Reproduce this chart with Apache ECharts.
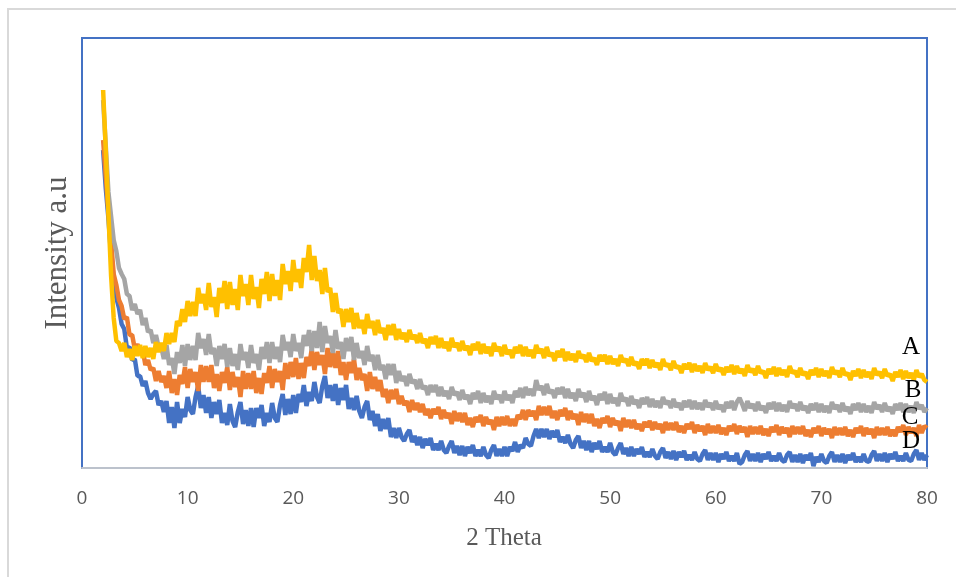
<!DOCTYPE html>
<html>
<head>
<meta charset="utf-8">
<script src="https://cdn.jsdelivr.net/npm/echarts@6/dist/echarts.min.js"></script>
<style>
html,body{margin:0;padding:0;background:#fff;}
#chart{width:956px;height:577px;}
</style>
</head>
<body>
<div id="chart"></div>
<script>
// 2 Theta positions (degrees)
const theta = [
2,2.25,2.5,2.75,3,3.25,3.5,3.75,
4,4.25,4.5,4.75,5,5.25,5.5,5.75,
6,6.25,6.5,6.75,7,7.25,7.5,7.75,
8,8.25,8.5,8.75,9,9.25,9.5,9.75,
10,10.25,10.5,10.75,11,11.25,11.5,11.75,
12,12.25,12.5,12.75,13,13.25,13.5,13.75,
14,14.25,14.5,14.75,15,15.25,15.5,15.75,
16,16.25,16.5,16.75,17,17.25,17.5,17.75,
18,18.25,18.5,18.75,19,19.25,19.5,19.75,
20,20.25,20.5,20.75,21,21.25,21.5,21.75,
22,22.25,22.5,22.75,23,23.25,23.5,23.75,
24,24.25,24.5,24.75,25,25.25,25.5,25.75,
26,26.25,26.5,26.75,27,27.25,27.5,27.75,
28,28.25,28.5,28.75,29,29.25,29.5,29.75,
30,30.25,30.5,30.75,31,31.25,31.5,31.75,
32,32.25,32.5,32.75,33,33.25,33.5,33.75,
34,34.25,34.5,34.75,35,35.25,35.5,35.75,
36,36.25,36.5,36.75,37,37.25,37.5,37.75,
38,38.25,38.5,38.75,39,39.25,39.5,39.75,
40,40.25,40.5,40.75,41,41.25,41.5,41.75,
42,42.25,42.5,42.75,43,43.25,43.5,43.75,
44,44.25,44.5,44.75,45,45.25,45.5,45.75,
46,46.25,46.5,46.75,47,47.25,47.5,47.75,
48,48.25,48.5,48.75,49,49.25,49.5,49.75,
50,50.25,50.5,50.75,51,51.25,51.5,51.75,
52,52.25,52.5,52.75,53,53.25,53.5,53.75,
54,54.25,54.5,54.75,55,55.25,55.5,55.75,
56,56.25,56.5,56.75,57,57.25,57.5,57.75,
58,58.25,58.5,58.75,59,59.25,59.5,59.75,
60,60.25,60.5,60.75,61,61.25,61.5,61.75,
62,62.25,62.5,62.75,63,63.25,63.5,63.75,
64,64.25,64.5,64.75,65,65.25,65.5,65.75,
66,66.25,66.5,66.75,67,67.25,67.5,67.75,
68,68.25,68.5,68.75,69,69.25,69.5,69.75,
70,70.25,70.5,70.75,71,71.25,71.5,71.75,
72,72.25,72.5,72.75,73,73.25,73.5,73.75,
74,74.25,74.5,74.75,75,75.25,75.5,75.75,
76,76.25,76.5,76.75,77,77.25,77.5,77.75,
78,78.25,78.5,78.75,79,79.25,79.5,79.75,
80];

// Intensity (a.u.)
const seriesA = [
378,318,255,193,150,127,125,117,
125,111,119,108,122,112,123,110,
122,111,120,109,126,116,125,117,
135,124,135,126,147,142,159,146,
167,152,166,152,180,165,174,158,
185,161,171,151,180,165,187,159,
186,163,179,158,193,172,184,163,
193,169,181,160,189,174,196,167,
194,172,188,168,204,184,197,177,
208,186,199,180,210,196,223,188,
212,187,198,174,200,176,180,156,
175,155,159,141,159,146,160,139,
155,140,148,134,154,140,147,133,
148,135,140,128,143,133,144,128,
139,129,135,126,138,129,133,125,
135,125,129,120,131,124,132,120,
130,120,126,117,130,121,125,117,
127,118,122,113,124,118,126,114,
124,115,121,112,125,117,121,112,
123,114,118,110,121,115,123,112,
121,112,118,110,123,115,119,110,
121,112,115,107,117,111,119,107,
116,108,114,106,117,110,113,106,
115,107,110,103,113,107,113,104,
112,104,109,102,113,106,109,102,
111,103,106,99,109,103,109,100,
108,101,105,98,109,102,104,98,
107,100,102,95,104,99,105,96,
104,97,102,95,105,98,101,95,
104,97,100,93,101,96,103,94,
102,95,99,92,103,96,99,93,
102,95,97,90,99,94,101,92,
100,93,98,91,102,95,97,91,
100,93,96,89,98,93,100,91,
99,92,97,90,101,94,97,91,
100,93,95,88,97,92,99,90,
98,91,96,89,100,93,96,90,
99,92,94,87,96,91,98,89,
97,90,95,88,98,91,94,88,
86];

const seriesB = [
368,322,276,252,228,217,200,194,
189,174,172,158,164,154,158,143,
150,136,138,125,133,121,121,109,
123,103,110,94,116,105,123,102,
124,108,122,108,135,120,129,113,
134,114,120,102,122,109,124,101,
120,102,114,98,124,108,116,100,
123,105,114,98,121,109,126,105,
126,109,121,106,133,118,126,111,
134,117,125,110,133,122,138,117,
137,120,146,116,142,125,132,115,
138,119,126,109,130,117,131,108,
125,110,117,103,122,107,113,98,
113,98,103,89,104,93,104,85,
97,87,92,82,94,85,88,79,
89,79,82,73,83,76,83,72,
81,72,77,69,81,73,76,68,
78,69,73,64,75,69,77,65,
75,66,72,64,77,69,73,65,
77,68,73,65,77,71,80,70,
81,73,79,72,88,78,82,73,
84,75,78,70,80,74,81,70,
79,70,75,67,79,71,75,66,
77,68,72,63,74,68,76,64,
74,65,70,62,75,67,70,62,
72,64,68,60,70,64,71,61,
69,61,67,60,71,64,67,60,
69,61,65,58,67,61,68,59,
67,59,65,58,68,61,65,58,
67,59,63,56,66,60,67,58,
66,70,64,57,67,60,64,57,
66,58,62,55,65,59,66,57,
65,57,63,56,67,60,64,57,
66,58,62,55,64,58,65,56,
64,56,62,55,66,59,63,56,
65,57,61,54,64,58,65,56,
64,56,62,55,66,59,63,56,
65,57,61,54,64,58,65,56,
64,56,62,55,66,59,63,56,
60];

const seriesC = [
328,292,256,227,194,183,168,162,
149,151,133,133,119,124,114,118,
103,108,98,100,87,97,86,92,
80,97,75,89,73,93,84,101,
80,99,86,96,77,103,86,102,
86,103,80,94,77,96,85,101,
78,96,81,91,71,97,79,95,
79,97,75,90,74,95,85,102,
80,99,86,97,78,105,89,106,
91,110,89,105,90,111,102,119,
98,116,103,113,94,120,101,116,
100,117,93,106,88,106,95,109,
88,100,88,94,77,96,79,91,
77,88,71,79,65,78,69,79,
64,72,63,67,56,68,58,65,
56,64,53,59,50,59,54,61,
49,58,50,55,44,57,47,55,
46,55,43,50,41,51,46,53,
42,51,44,48,38,51,42,51,
43,52,42,49,42,53,49,58,
48,58,52,57,48,62,53,61,
53,62,50,57,48,58,52,60,
48,57,49,54,43,56,46,54,
45,54,42,49,40,50,45,52,
41,50,43,47,37,50,41,48,
40,48,39,44,37,46,41,47,
38,46,39,44,35,46,38,45,
38,46,36,42,35,44,39,46,
35,43,37,42,33,44,35,42,
35,43,34,40,33,42,37,44,
34,42,36,41,31,42,34,41,
34,42,33,39,32,41,36,43,
33,41,35,40,31,42,34,41,
34,42,32,38,31,40,35,42,
32,40,34,39,30,41,33,40,
33,41,32,38,31,40,35,42,
32,40,34,39,30,41,33,40,
33,41,32,38,32,41,36,43,
33,41,35,40,32,43,35,42,
40];

const seriesD = [
318,280,250,213,190,170,160,144,
139,120,121,108,109,92,92,82,
87,75,69,74,77,63,67,56,
67,45,61,40,66,45,59,51,
71,58,54,71,82,60,73,55,
71,50,66,54,68,45,55,43,
64,47,41,56,66,44,58,42,
60,41,60,50,63,42,55,46,
65,50,46,63,74,53,69,54,
73,55,74,66,83,62,76,67,
86,71,65,82,92,70,83,67,
84,63,80,68,83,59,70,58,
72,57,50,61,67,48,57,42,
54,37,49,39,50,31,40,30,
40,31,27,34,38,26,32,23,
31,20,29,23,30,18,24,18,
27,18,15,22,27,15,22,13,
22,12,21,15,23,12,18,12,
21,13,10,18,23,12,19,12,
21,12,21,17,26,16,23,20,
30,24,22,32,39,30,39,31,
39,29,37,31,38,26,31,25,
33,24,20,28,32,20,27,18,
27,16,25,19,27,16,21,16,
25,16,13,20,25,14,20,12,
21,12,19,14,21,11,16,11,
19,12,9,16,20,10,16,9,
17,8,16,11,17,8,13,8,
16,9,7,14,18,8,15,8,
15,6,14,9,16,7,12,7,
15,4,6,13,17,7,14,7,
15,6,14,9,16,7,12,7,
15,8,6,13,16,6,13,6,
14,5,13,8,15,2,11,6,
14,7,5,12,16,6,13,6,
14,5,13,8,15,6,11,6,
14,7,6,13,17,7,14,7,
15,6,14,9,16,7,12,7,
15,8,7,14,18,8,15,8,
13];

const seriesNames = ['A','B','C','D'];
const xTicks = [0,10,20,30,40,50,60,70,80];

const colors = {A:'#FFC000', B:'#A5A5A5', C:'#ED7D31', D:'#4472C4'};
const values = {A:seriesA, B:seriesB, C:seriesC, D:seriesD};

const chart = echarts.init(document.getElementById('chart'), null, {renderer:'canvas'});

const drawOrder = ['D','C','B','A'];
const series = drawOrder.map(k => ({
  name: k,
  type: 'line',
  showSymbol: false,
  symbol: 'none',
  data: theta.map((t,i) => [t, values[k][i]]),
  lineStyle: {color: colors[k], width: 4.5, join: 'bevel'},
  itemStyle: {color: colors[k]},
  z: 2
}));

chart.setOption({
  animation: false,
  backgroundColor: '#ffffff',
  grid: {
    left: 82, top: 38, right: 29, bottom: 109,
    show: true, borderColor: '#4472C4', borderWidth: 2, backgroundColor: 'transparent'
  },
  xAxis: {
    type: 'value', min: xTicks[0], max: xTicks[xTicks.length-1], interval: 10,
    axisLine: {show: true, lineStyle: {color: '#BCC2CC', width: 2}},
    axisTick: {show: false},
    splitLine: {show: false},
    axisLabel: {color: '#595959', fontFamily: 'Open Sans', fontSize: 19, margin: 21}
  },
  yAxis: {
    type: 'value', min: 0, max: 430,
    axisLine: {show: false}, axisTick: {show: false},
    splitLine: {show: false}, axisLabel: {show: false}
  },
  graphic: [
    {type:'rect', shape:{x:8, y:9, width:1000, height:1000}, style:{fill:'none', stroke:'#D9D9D9', lineWidth:2}, silent:true, z:-1},
    {type:'text', x:504, y:538, style:{text:'2 Theta', fill:'#595959', font:'25px "Liberation Serif"', textAlign:'center', textVerticalAlign:'middle'}},
    {type:'text', x:58, y:253, rotation: Math.PI/2, style:{text:'Intensity a.u', fill:'#595959', font:'31px "Liberation Serif"', textAlign:'center', textVerticalAlign:'middle'}},
    {type:'text', x:911, y:347, style:{text:seriesNames[0], fill:'#000', font:'25px "Liberation Serif"', textAlign:'center', textVerticalAlign:'middle'}, z:10},
    {type:'text', x:913, y:390, style:{text:seriesNames[1], fill:'#000', font:'25px "Liberation Serif"', textAlign:'center', textVerticalAlign:'middle'}, z:10},
    {type:'text', x:910, y:417, style:{text:seriesNames[2], fill:'#000', font:'25px "Liberation Serif"', textAlign:'center', textVerticalAlign:'middle'}, z:10},
    {type:'text', x:911, y:441, style:{text:seriesNames[3], fill:'#000', font:'25px "Liberation Serif"', textAlign:'center', textVerticalAlign:'middle'}, z:10}
  ],
  series: series
});
</script>
</body>
</html>
